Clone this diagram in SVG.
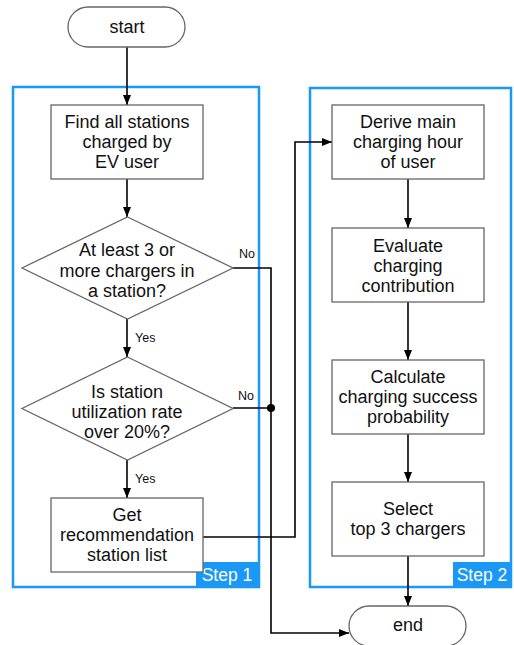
<svg xmlns="http://www.w3.org/2000/svg" width="514" height="645" viewBox="0 0 514 645">
<style>
.box{fill:#fff;stroke:#666;stroke-width:1.3}
.t{font-family:"Liberation Sans",Arial,sans-serif;font-size:18px;fill:#111;text-anchor:middle;dominant-baseline:central}
.s{font-family:"Liberation Sans",Arial,sans-serif;font-size:12.5px;fill:#111;dominant-baseline:central}
.grp{fill:none;stroke:#1a98f5;stroke-width:2.5}
.lab{fill:#1a98f5}
.lt{font-family:"Liberation Sans",Arial,sans-serif;font-size:17.5px;fill:#fff;text-anchor:middle;dominant-baseline:central}
.c{fill:none;stroke:#000;stroke-width:1.6}
</style>
<defs>
<marker id="a" viewBox="0 0 10 10" refX="10" refY="5" markerWidth="10" markerHeight="10" markerUnits="userSpaceOnUse" orient="auto"><path d="M0,1 L10,5 L0,9 Z" fill="#000"/></marker>
</defs>
<rect width="514" height="645" fill="#fff"/>
<g id="step1"><rect class="grp" x="13" y="87" width="246" height="500"/><rect class="lab" x="196" y="562" width="64" height="26"/><text class="lt" x="227" y="575">Step 1</text></g>
<g id="step2"><rect class="grp" x="310" y="88" width="201" height="499"/><rect class="lab" x="453" y="562" width="59" height="26"/><text class="lt" x="482" y="575">Step 2</text></g>
<g id="connectors">
<path class="c" d="M127,47 V105" marker-end="url(#a)"/>
<path class="c" d="M127,179 V217" marker-end="url(#a)"/>
<path class="c" d="M127,319 V357" marker-end="url(#a)"/>
<path class="c" d="M127,460 V498" marker-end="url(#a)"/>
<path class="c" d="M233,268 H271 V633 H349" marker-end="url(#a)"/>
<path class="c" d="M233,408 H271"/>
<circle cx="271" cy="408" r="4" fill="#000"/>
<path class="c" d="M203,537 H295 V142 H332" marker-end="url(#a)"/>
<path class="c" d="M408,179 V228" marker-end="url(#a)"/>
<path class="c" d="M408,302 V360" marker-end="url(#a)"/>
<path class="c" d="M408,434 V482" marker-end="url(#a)"/>
<path class="c" d="M408,556 V606" marker-end="url(#a)"/>
<text class="s" x="239" y="254">No</text>
<text class="s" x="238" y="396">No</text>
<text class="s" x="135" y="338">Yes</text>
<text class="s" x="135" y="479">Yes</text>
</g>
<g id="start"><rect class="box" x="68" y="7" width="117" height="40" rx="20"/><text class="t" x="127" y="27">start</text></g>
<g id="find"><rect class="box" x="51" y="105" width="152" height="74"/><text class="t" x="127" y="122">Find all stations</text><text class="t" x="127" y="142">charged by</text><text class="t" x="127" y="162">EV user</text></g>
<g id="d1"><path class="box" d="M127.5,217 L233,268 L127.5,319 L22,268 Z"/><text class="t" x="127" y="250">At least 3 or</text><text class="t" x="127" y="271">more chargers in</text><text class="t" x="127" y="291">a station?</text></g>
<g id="d2"><path class="box" d="M127.5,357 L233,408.5 L127.5,460 L22,408.5 Z"/><text class="t" x="127" y="392">Is station</text><text class="t" x="127" y="412">utilization rate</text><text class="t" x="127" y="432">over 20%?</text></g>
<g id="get"><rect class="box" x="51" y="498" width="152" height="74"/><text class="t" x="127" y="515">Get</text><text class="t" x="127" y="535">recommendation</text><text class="t" x="127" y="555">station list</text></g>
<g id="derive"><rect class="box" x="332" y="105" width="152" height="74"/><text class="t" x="408" y="122">Derive main</text><text class="t" x="408" y="142">charging hour</text><text class="t" x="408" y="162">of user</text></g>
<g id="evaluate"><rect class="box" x="332" y="228" width="152" height="74"/><text class="t" x="408" y="246">Evaluate</text><text class="t" x="408" y="266">charging</text><text class="t" x="408" y="286">contribution</text></g>
<g id="calc"><rect class="box" x="332" y="360" width="152" height="74"/><text class="t" x="408" y="377">Calculate</text><text class="t" x="408" y="397">charging success</text><text class="t" x="408" y="417">probability</text></g>
<g id="select"><rect class="box" x="332" y="482" width="152" height="74"/><text class="t" x="408" y="509">Select</text><text class="t" x="408" y="529">top 3 chargers</text></g>
<g id="end"><rect class="box" x="349" y="606" width="117" height="40" rx="20"/><text class="t" x="408" y="625">end</text></g>
</svg>
